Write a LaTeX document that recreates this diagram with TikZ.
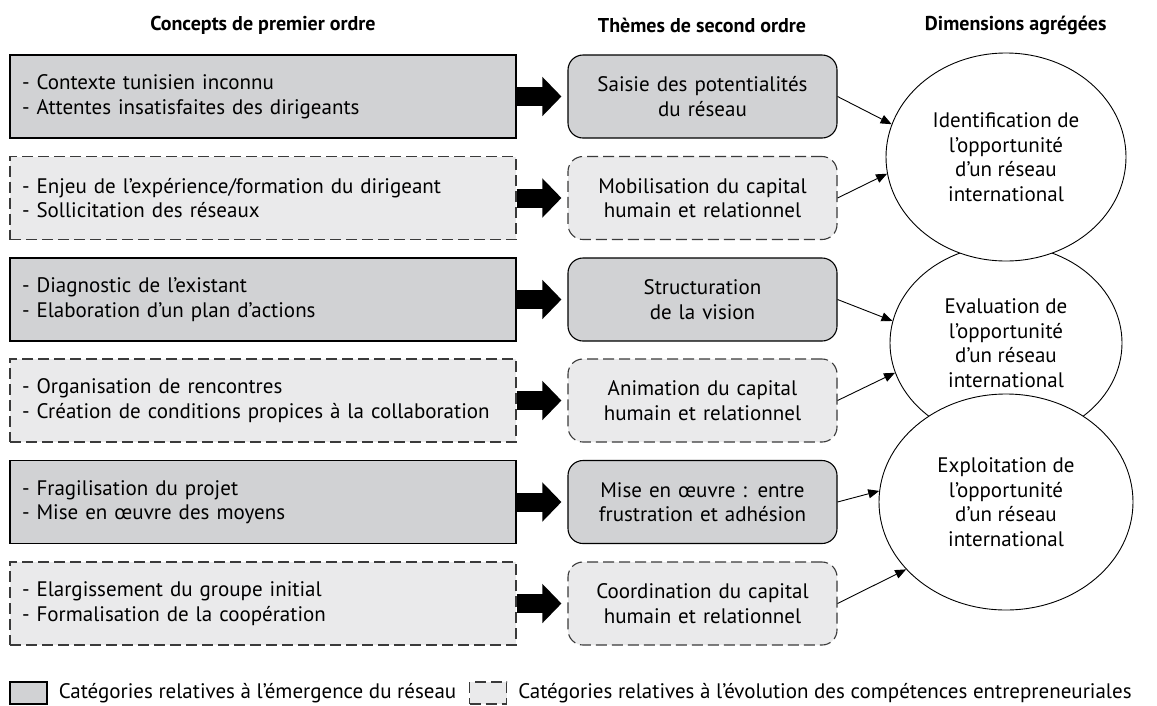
\documentclass[tikz,border=0pt]{standalone}
\usepackage{fontspec}
\setmainfont{PT Sans}
\usetikzlibrary{arrows.meta,shapes.geometric,positioning}
\definecolor{fondA}{HTML}{D1D2D4}
\definecolor{fondB}{HTML}{EAEAEB}
\definecolor{trait}{HTML}{3A3A3A}

\begin{document}
\begin{tikzpicture}[x=1pt,y=-1pt,
	txt/.style={font=\fontsize{21}{24.5}\selectfont},
	titre/.style={font=\bfseries\fontsize{20}{22}\selectfont},
	emerg/.style={fill=fondA,draw=black,line width=1.1pt},
	evol/.style={fill=fondB,draw=trait,line width=1.1pt,dash pattern=on 11pt off 5pt},
	concept/.style={txt,minimum width=506pt,minimum height=83pt,text width=482pt,inner xsep=12pt,align=left},
	theme/.style={txt,rounded corners=15pt,minimum width=269pt,minimum height=83pt,text width=245pt,align=center},
	dim/.style={txt,ellipse,draw,fill=white,line width=0.9pt,inner sep=0pt,align=center},
	fat/.style={line width=19pt,-{Triangle[length=19pt,width=38pt]},shorten >=6pt},
	fin/.style={line width=0.9pt,-{Triangle[length=11pt,width=9pt]}}]
	\useasboundingbox (0,0) rectangle (1157,705);

	% titres des colonnes
	\node[titre] (h1) at (263,25) {Concepts de premier ordre};
	\node[titre] (h2) at (702,25) {Thèmes de second ordre};
	\node[titre,anchor=east] (h3) at (1110,25) {Dimensions agrégées};

	% concepts de premier ordre
	\node[concept,emerg] (c1) at (263,96.5) {- Contexte tunisien inconnu\\- Attentes insatisfaites des dirigeants};
	\node[concept,evol] (c2) at (263,198) {- Enjeu de l’expérience/formation du dirigeant\\- Sollicitation des réseaux};
	\node[concept,emerg] (c3) at (263,299.5) {- Diagnostic de l’existant\\- Elaboration d’un plan d’actions};
	\node[concept,evol] (c4) at (263,400.5) {- Organisation de rencontres\\- Création de conditions propices à la collaboration};
	\node[concept,emerg] (c5) at (263,502) {- Fragilisation du projet\\- Mise en œuvre des moyens};
	\node[concept,evol] (c6) at (263,603.5) {- Elargissement du groupe initial\\- Formalisation de la coopération};

	% themes de second ordre
	\node[theme,emerg] (t1) at (702.5,96.5) {Saisie des potentialités\\du réseau};
	\node[theme,evol] (t2) at (702.5,198) {Mobilisation du capital\\humain et relationnel};
	\node[theme,emerg] (t3) at (702.5,299.5) {Structuration\\de la vision};
	\node[theme,evol] (t4) at (702.5,400.5) {Animation du capital\\humain et relationnel};
	\node[theme,emerg] (t5) at (702.5,502) {Mise en œuvre : entre\\frustration et adhésion};
	\node[theme,evol] (t6) at (702.5,603.5) {Coordination du capital\\humain et relationnel};

	% dimensions agregees
	\node[dim,minimum width=232pt,minimum height=196pt] (d2) at (1006,343) {Evaluation de\\l’opportunité\\d’un réseau\\international};
	\node[dim,minimum width=240pt,minimum height=208pt] (d1) at (1006,157) {Identification de\\l’opportunité\\d’un réseau\\international};
	\node[dim,minimum width=254pt,minimum height=216pt] (d3) at (1006,502) {Exploitation de\\l’opportunité\\d’un réseau\\international};

	% fleches
	\draw[fat] (c1.east) -- (t1.west);
	\draw[fat] (c2.east) -- (t2.west);
	\draw[fat] (c3.east) -- (t3.west);
	\draw[fat] (c4.east) -- (t4.west);
	\draw[fat] (c5.east) -- (t5.west);
	\draw[fat] (c6.east) -- (t6.west);
	\draw[fin] (t1.east) -- (d1.164);
	\draw[fin] (t2.east) -- (d1.188);
	\draw[fin] (t3.east) -- (d2.169);
	\draw[fin] (t4.east) -- (d2.195);
	\draw[fin] (t5.east) -- (d3.175);
	\draw[fin] (t6.east) -- (d3.214);

	% legende
	\node[emerg,minimum width=37pt,minimum height=22pt,inner sep=0pt] (l1) at (28.5,693) {};
	\node[txt,right=11pt of l1,inner sep=0pt] (lt1) {Catégories relatives à l’émergence du réseau};
	\node[evol,minimum width=37pt,minimum height=22pt,inner sep=0pt] (l2) at (488,693) {};
	\node[txt,right=11pt of l2,inner sep=0pt] (lt2) {Catégories relatives à l’évolution des compétences entrepreneuriales};
\end{tikzpicture}
\end{document}
